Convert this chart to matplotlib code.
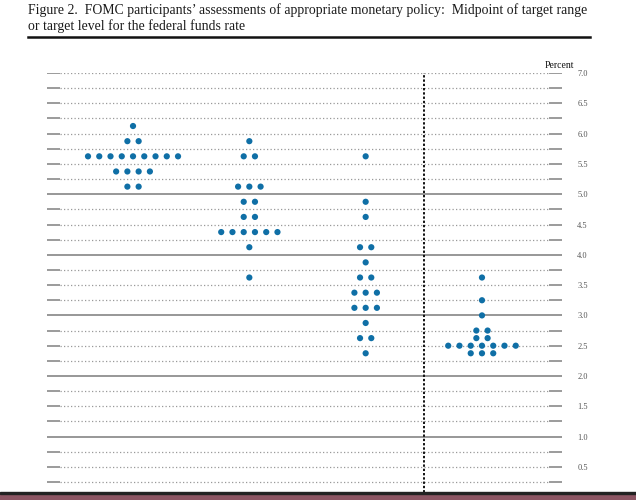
import numpy as np
import matplotlib
matplotlib.use("Agg")
import matplotlib.pyplot as plt
from matplotlib.patches import Rectangle

# ---- data ----
columns = ["2018", "2019", "2020", "Longer run"]
col_2018_levels = [6.125, 5.875, 5.625, 5.375, 5.125]
col_2018_counts = [1, 2, 9, 4, 2]
col_2019_levels = [5.875, 5.625, 5.125, 4.875, 4.625, 4.375, 4.125, 3.625]
col_2019_counts = [1, 2, 3, 2, 2, 6, 1, 1]
col_2020_levels = [5.625, 4.875, 4.625, 4.125, 3.875, 3.625, 3.375, 3.125, 2.875, 2.625, 2.375]
col_2020_counts = [1, 1, 1, 2, 1, 2, 3, 3, 1, 2, 1]
col_lr_levels = [3.625, 3.25, 3.0, 2.75, 2.625, 2.5, 2.375]
col_lr_counts = [1, 1, 1, 2, 2, 7, 3]
tick_values = [0.5, 1.0, 1.5, 2.0, 2.5, 3.0, 3.5, 4.0, 4.5, 5.0, 5.5, 6.0, 6.5, 7.0]
tick_labels = ["0.5", "1.0", "1.5", "2.0", "2.5", "3.0", "3.5", "4.0", "4.5", "5.0", "5.5", "6.0", "6.5", "7.0"]

all_levels = [col_2018_levels, col_2019_levels, col_2020_levels, col_lr_levels]
all_counts = [col_2018_counts, col_2019_counts, col_2020_counts, col_lr_counts]

W, H = 636, 500
fig = plt.figure(figsize=(W / 100, H / 100), dpi=100)
fig.patch.set_facecolor("white")

serif = ["Liberation Serif", "DejaVu Serif"]

# title
fig.text(28 / W, 1 - 3 / H,
         "Figure 2.  FOMC participants\u2019 assessments of appropriate monetary policy:  Midpoint of target range\n"
         "or target level for the federal funds rate",
         family=serif, fontsize=9.95, va="top", ha="left", linespacing=1.2, color="#1a1a1a")
fig.add_artist(plt.Line2D([28 / W, 590 / W], [1 - 37 / H, 1 - 37 / H], color="#111111", lw=1.8))

# axes: x from 47 to 562 px, y 7.0 at 73 px, 60.6 px per unit
x_left, x_right = 47, 562
top_px = 73
px_per_unit = 60.6
ymin = 0.0
bottom_px = top_px + 7.0 * px_per_unit
ax = fig.add_axes([x_left / W, 1 - bottom_px / H, (x_right - x_left) / W, (bottom_px - top_px) / H])
col_px = 116.3
xmin = 1 - (133 - x_left) / col_px
xmax = 4 + (x_right - 482) / col_px
ax.set_xlim(xmin, xmax)
ax.set_ylim(ymin, 7.0)
ax.set_facecolor("none")
for s in ax.spines.values():
    s.set_visible(False)

# grid lines
end_len = 13 / col_px
levels = np.arange(0.25, 7.01, 0.25)
for lv in levels:
    if abs(lv - round(lv)) < 1e-9 and lv < 6.5 and lv != 6.0:
        ax.plot([xmin, xmax], [lv, lv], color="#7a7a7a", lw=1.1, solid_capstyle="butt", zorder=1)
    else:
        ax.plot([xmin + end_len, xmax - end_len], [lv, lv], color="#999999", lw=0.9,
                linestyle=(0, (1, 1.8)), zorder=1)
        ax.plot([xmin, xmin + end_len], [lv, lv], color="#808080", lw=1.1, solid_capstyle="butt", zorder=1)
        ax.plot([xmax - end_len, xmax], [lv, lv], color="#808080", lw=1.1, solid_capstyle="butt", zorder=1)

# vertical dashed separator
ax.plot([3.5, 3.5], [ymin - 0.2, 7.0], color="#111111", lw=1.4, linestyle=(0, (1.2, 1.0)),
        zorder=2, clip_on=False)

# dots
spacing = 11.25 / col_px
for ci, (lvls, cnts) in enumerate(zip(all_levels, all_counts)):
    c = ci + 1
    for lv, n in zip(lvls, cnts):
        xs = c + (np.arange(n) - (n - 1) / 2) * spacing
        ax.scatter(xs, [lv] * n, s=20, color="#0f6fa6", edgecolors="none", zorder=3)

# right tick labels
ax.set_xticks([])
ax.yaxis.tick_right()
ax.set_yticks(tick_values)
ax.set_yticklabels(tick_labels, family=serif, fontsize=6, color="#555555")
ax.tick_params(axis="y", length=0, pad=11)

fig.text(559 / W, 1 - 65 / H, "Percent", family=serif, fontsize=7, ha="center", va="center", color="#111111")

# bottom screenshot edge
fig.add_artist(Rectangle((0, 0), 1, 6 / H, transform=fig.transFigure, color="#8c5563", zorder=5))
fig.add_artist(Rectangle((0, 6 / H), 1, 2 / H, transform=fig.transFigure, color="#222222", zorder=5))

fig.savefig("out.png", dpi=100, facecolor="white")
